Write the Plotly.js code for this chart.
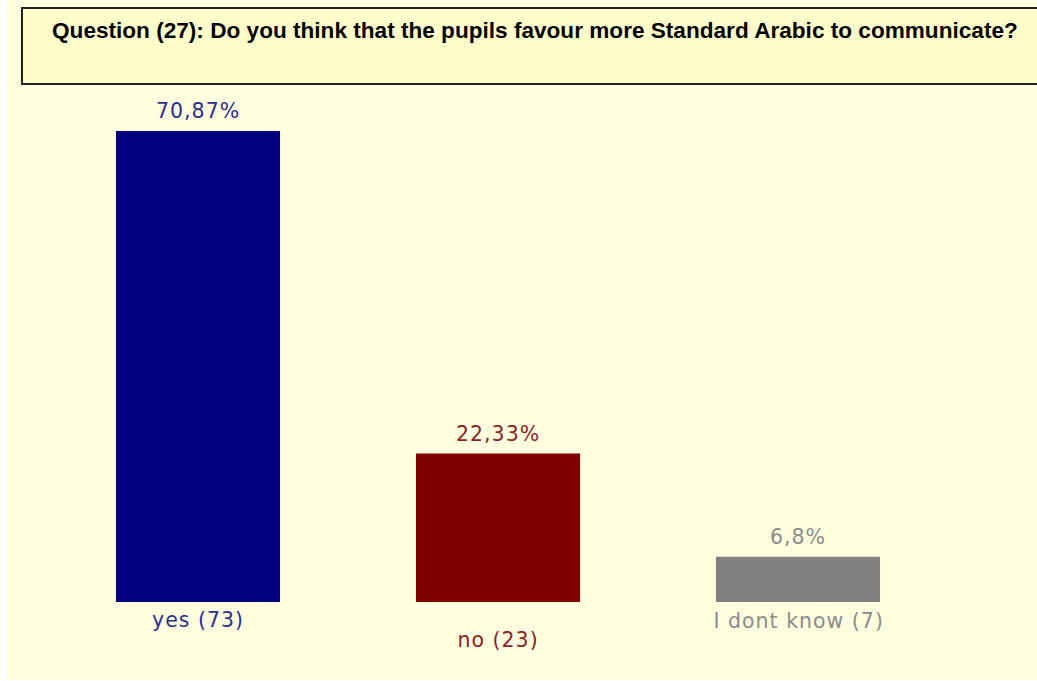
<!DOCTYPE html>
<html>
<head>
<meta charset="utf-8">
<script src="https://cdn.plot.ly/plotly-3.0.1.min.js"></script>
<style>
  html, body { margin: 0; padding: 0; background: #ffffff; }
  #chart { position: absolute; left: 7px; top: 0; width: 1030px; height: 680px; }
  #chart .annotation-text { letter-spacing: 1px; }
</style>
</head>
<body>
<div id="chart"></div>
<script>
// Data
const categories = ["yes", "no", "I dont know"];
const counts = [73, 23, 7];
const percents = [70.87, 22.33, 6.8];
const percentLabels = ["70,87%", "22,33%", "6,8%"];
const categoryLabels = ["yes (73)", "no (23)", "I dont know (7)"];
const barColors = ["#000080", "#7f0000", "#808080"];
const textColors = ["#2e2e8e", "#8a2323", "#8c8c8c"];
const labelShift = [-18, -38, -19];

const titleText = "Question (27): Do you think that the pupils favour more Standard Arabic to communicate?";

const trace = {
  type: "bar",
  x: categories,
  y: percents,
  width: 0.547,
  marker: { color: barColors, line: { width: 0 } },
  hoverinfo: "skip"
};

const annotations = [];
categories.forEach((c, i) => {
  annotations.push({
    x: c, y: percents[i], xref: "x", yref: "y",
    text: percentLabels[i], showarrow: false,
    yanchor: "bottom", yshift: 6,
    font: { family: "DejaVu Sans", size: 20.5, color: textColors[i] }
  });
  annotations.push({
    x: c, y: 0, xref: "x", yref: "y",
    text: categoryLabels[i], showarrow: false,
    yanchor: "middle", yshift: labelShift[i],
    font: { family: "DejaVu Sans", size: 20.5, color: textColors[i] }
  });
});

const layout = {
  width: 1030,
  height: 680,
  margin: { l: 41, r: 89, t: 100, b: 78, pad: 0 },
  paper_bgcolor: "#ffffe0",
  plot_bgcolor: "#ffffe0",
  showlegend: false,
  title: {
    text: "<b>" + titleText + "</b>",
    x: 45 / 1030, xanchor: "left", xref: "container",
    y: 1 - 30 / 680, yanchor: "middle", yref: "container",
    font: { family: "Liberation Sans", size: 22.6, color: "#000000" }
  },
  xaxis: {
    range: [-0.5, 2.5],
    showticklabels: false, showgrid: false, zeroline: false, showline: false, ticks: ""
  },
  yaxis: {
    range: [0, 75.53],
    showticklabels: false, showgrid: false, zeroline: false, showline: false, ticks: ""
  },
  shapes: [{
    type: "rect", xref: "paper", yref: "paper", layer: "below",
    x0: -0.0289, x1: 1.101, y0: 1.0319, y1: 1.1833,
    fillcolor: "#ffffcc", line: { color: "#222222", width: 2 }
  }],
  annotations: annotations
};

Plotly.newPlot("chart", [trace], layout, { displayModeBar: false, staticPlot: true });
</script>
</body>
</html>
